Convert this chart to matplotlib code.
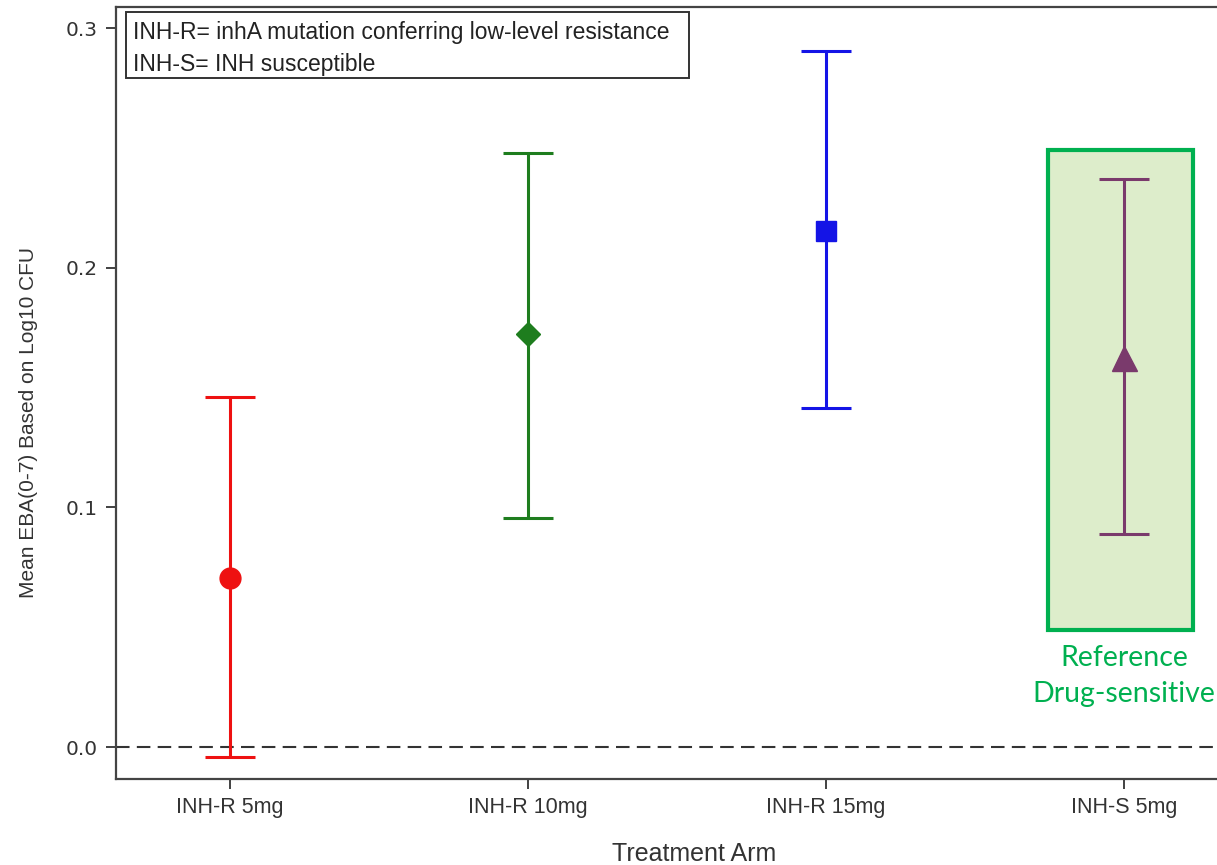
import matplotlib
matplotlib.use("Agg")
import matplotlib.pyplot as plt
from matplotlib.patches import Rectangle

plt.rcParams['font.family'] = ['Liberation Sans', 'DejaVu Sans']

# Treatment arms and mean EBA(0-7) with 95% confidence limits
arms = ["INH-R 5mg", "INH-R 10mg", "INH-R 15mg", "INH-S 5mg"]
means = [0.0705, 0.1723, 0.2153, 0.1623]
lower = [-0.0042, 0.0955, 0.1414, 0.0889]
upper = [0.1460, 0.2478, 0.2904, 0.2370]

colors = ["#EE1111", "#1E7D1E", "#1414E6", "#7A3A6C"]
markers = ["o", "D", "s", "^"]
msizes = [15, 12, 14, 18]

W, H = 1217, 865
fig = plt.figure(figsize=(W / 100, H / 100), dpi=100)
ax = fig.add_axes([116 / W, 1 - 779 / H, (1273 - 116) / W, (779 - 7) / H])

ax.set_xlim(-0.383, 3.5)
ax.set_ylim(-0.01335, 0.3088)

# Highlight for the reference (drug-sensitive) arm
ax.add_patch(Rectangle((2.745, 0.0488), 0.487, 0.2002, facecolor="#DDEDCB",
                       edgecolor="#00B050", linewidth=3.0, zorder=1))
ax.text(3.0, 0.0425, "Reference\nDrug-sensitive", color="#00B050",
        ha="center", va="top", fontsize=20.5, family=["Lato", "DejaVu Sans"],
        linespacing=1.45)

ax.axhline(0.0, color="#333333", linestyle=(0, (6.5, 3.5)), linewidth=1.5, zorder=2)

for i, (m, lo, hi) in enumerate(zip(means, lower, upper)):
    ax.errorbar(i, m, yerr=[[m - lo], [hi - m]], fmt=markers[i], color=colors[i],
                markersize=msizes[i], elinewidth=2.2, capsize=18, capthick=2.2,
                zorder=3)

ax.set_xticks(range(len(arms)))
ax.set_xticklabels(arms)
ax.set_yticks([0.0, 0.1, 0.2, 0.3])
ax.set_yticklabels(["0.0", "0.1", "0.2", "0.3"], family=["DejaVu Sans"])
ax.tick_params(axis="both", direction="out", length=7, width=1.3, colors="#333333",
               labelcolor="#333333")
ax.tick_params(axis="x", labelsize=15.5, pad=6)
ax.tick_params(axis="y", labelsize=14.5, pad=6)

for sp in ax.spines.values():
    sp.set_linewidth(1.6)
    sp.set_color("#444444")

ax.set_xlabel("Treatment Arm", fontsize=18, color="#333333", labelpad=17)
ax.set_ylabel("Mean EBA(0-7) Based on Log10 CFU", fontsize=15, color="#333333")
ax.yaxis.set_label_coords(-0.0674, 0.462)

# Key box for the arm abbreviations
fig.patches.append(Rectangle((126 / W, 1 - 78 / H), (689 - 126) / W, (78 - 12) / H,
                             transform=fig.transFigure, facecolor="white",
                             edgecolor="#333333", linewidth=1.4, zorder=5))
key_lines = ["INH-R= inhA mutation conferring low-level resistance",
             "INH-S= INH susceptible"]
for txt, yp in zip(key_lines, [33, 64]):
    fig.text(133 / W, 1 - yp / H, txt, ha="left", va="center", fontsize=16.5,
             color="#222222", zorder=6)

fig.savefig("out.png", dpi=100)
